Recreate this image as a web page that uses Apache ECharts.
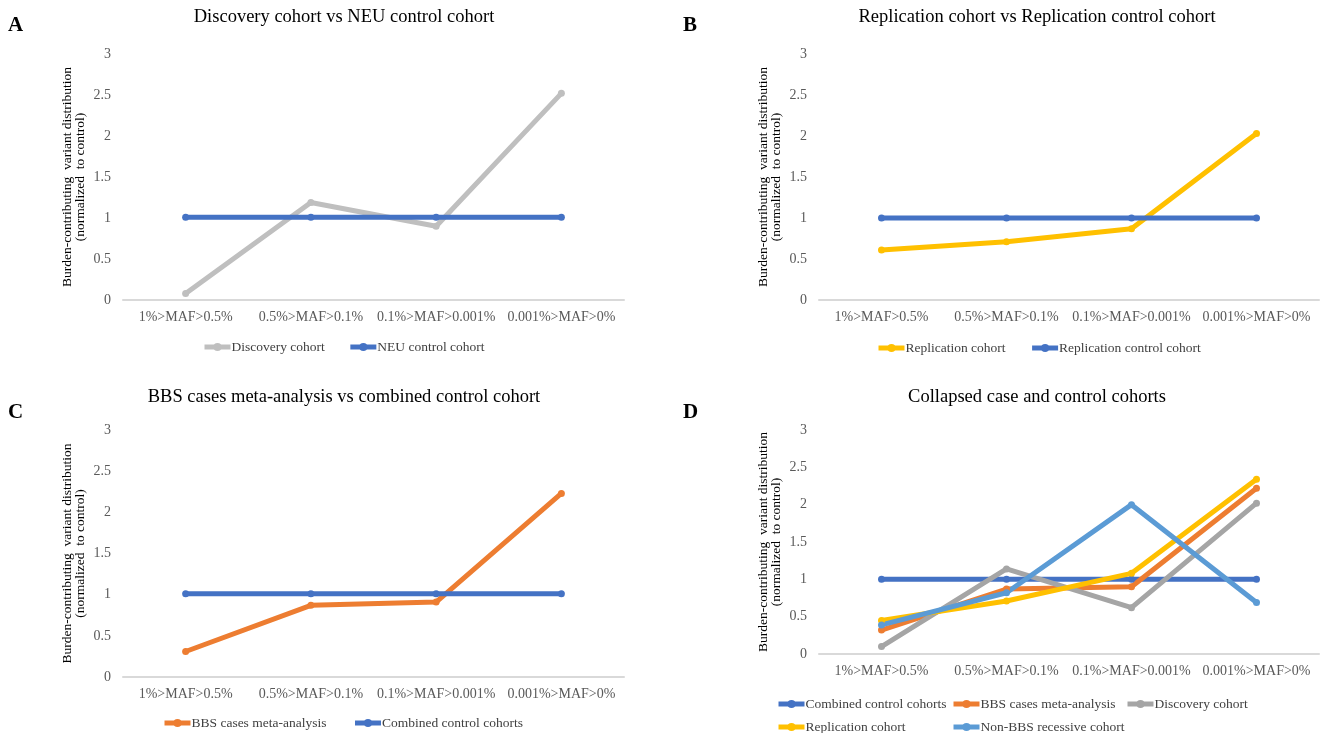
<!DOCTYPE html>
<html>
<head>
<meta charset="utf-8">
<script src="https://cdn.jsdelivr.net/npm/echarts@6/dist/echarts.min.js"></script>
<style>html,body{margin:0;padding:0;background:#fff;}#c{width:1327px;height:733px;}</style>
</head>
<body>
<div id="c"></div>
<script>
const categories = ['1%>MAF>0.5%', '0.5%>MAF>0.1%', '0.1%>MAF>0.001%', '0.001%>MAF>0%'];
// Panel A
const discoveryA = [0.08, 1.19, 0.90, 2.52];
const neuControlA = [1.01, 1.01, 1.01, 1.01];
// Panel B
const replicationB = [0.61, 0.71, 0.87, 2.03];
const replicationControlB = [1.00, 1.00, 1.00, 1.00];
// Panel C
const bbsMetaC = [0.31, 0.87, 0.91, 2.23];
const combinedControlC = [1.01, 1.01, 1.01, 1.01];
// Panel D
const combinedControlD = [1.00, 1.00, 1.00, 1.00];
const bbsMetaD = [0.32, 0.87, 0.90, 2.22];
const discoveryD = [0.10, 1.14, 0.62, 2.02];
const replicationD = [0.45, 0.71, 1.08, 2.34];
const nonBbsD = [0.39, 0.82, 2.00, 0.69];

const titles = ['Discovery cohort vs NEU control cohort', 'Replication cohort vs Replication control cohort',
  'BBS cases meta-analysis vs combined control cohort', 'Collapsed case and control cohorts'];
const panelLetters = ['A', 'B', 'C', 'D'];
const yName = 'Burden-contributing  variant distribution\n(normalized  to control)';

const C = { blue: '#4472C4', lgrey: '#BFBFBF', grey: '#A5A5A5', orange: '#ED7D31', yellow: '#FFC000', lblue: '#5B9BD5' };
const FF = '"Liberation Serif", "Times New Roman", serif';

const grids = [
  { left: 123, top: 54, width: 501, height: 246 },
  { left: 819, top: 54, width: 500, height: 246 },
  { left: 123, top: 430, width: 501, height: 247 },
  { left: 819, top: 430, width: 500, height: 224 }
];

const xAxes = grids.map((g, i) => ({
  type: 'category', gridIndex: i, data: categories, boundaryGap: true,
  axisLine: { lineStyle: { color: '#D9D9D9', width: 2 } },
  axisTick: { show: false },
  axisLabel: { color: '#595959', fontFamily: FF, fontSize: 14, margin: 10, interval: 0 }
}));
const yAxes = grids.map((g, i) => ({
  type: 'value', gridIndex: i, min: 0, max: 3, interval: 0.5,
  splitLine: { show: false }, axisLine: { show: false }, axisTick: { show: false },
  axisLabel: { color: '#595959', fontFamily: FF, fontSize: 14, margin: 12 },
  name: yName, nameLocation: 'middle', nameGap: 36, nameRotate: 90,
  nameTextStyle: { color: '#000', fontFamily: FF, fontSize: 13.5, lineHeight: 13 }
}));

function line(name, data, color, idx) {
  return {
    type: 'line', name: name, data: data, xAxisIndex: idx, yAxisIndex: idx,
    symbol: 'circle', symbolSize: 7, lineStyle: { color: color, width: 5 },
    itemStyle: { color: color }, z: 2, animation: false
  };
}

const series = [
  line('Discovery cohort', discoveryA, C.lgrey, 0),
  line('NEU control cohort', neuControlA, C.blue, 0),
  line('Replication cohort', replicationB, C.yellow, 1),
  line('Replication control cohort', replicationControlB, C.blue, 1),
  line('BBS cases meta-analysis', bbsMetaC, C.orange, 2),
  line('Combined control cohorts', combinedControlC, C.blue, 2),
  line('Combined control cohorts', combinedControlD, C.blue, 3),
  line('BBS cases meta-analysis', bbsMetaD, C.orange, 3),
  line('Discovery cohort', discoveryD, C.grey, 3),
  line('Replication cohort', replicationD, C.yellow, 3),
  line('Non-BBS recessive cohort', nonBbsD, C.lblue, 3)
];

function item(name, color) {
  return { name: name, itemStyle: { color: color }, lineStyle: { color: color, width: 5 } };
}
function legend(left, top, items, gap) {
  return {
    left: left, top: top, padding: 0, itemWidth: 26, itemHeight: 10, itemGap: gap || 23, selectedMode: false,
    textStyle: { fontFamily: FF, fontSize: 13.5, color: '#404040', padding: [0, 0, 0, -4] },
    data: items
  };
}
const legends = [
  legend(202, 340, [item('Discovery cohort', C.lgrey), item('NEU control cohort', C.blue)]),
  legend(876, 341, [item('Replication cohort', C.yellow), item('Replication control cohort', C.blue)], 24),
  legend(162, 716, [item('BBS cases meta-analysis', C.orange), item('Combined control cohorts', C.blue)], 26),
  legend(776, 697, [item('Combined control cohorts', C.blue)]),
  legend(951, 697, [item('BBS cases meta-analysis', C.orange)]),
  legend(1125, 697, [item('Discovery cohort', C.grey)]),
  legend(776, 720, [item('Replication cohort', C.yellow)]),
  legend(951, 720, [item('Non-BBS recessive cohort', C.lblue)])
];

const titleCenters = [[344, 8], [1037, 8], [344, 388], [1037, 388]];
const letterPos = [[8, 15], [683, 15], [8, 402], [683, 402]];
const titleComps = [];
titles.forEach((t, i) => {
  titleComps.push({ text: t, left: titleCenters[i][0], top: titleCenters[i][1], textAlign: 'center', padding: 0,
    textStyle: { fontFamily: FF, fontSize: 18.5, fontWeight: 'normal', color: '#000' } });
  titleComps.push({ text: panelLetters[i], left: letterPos[i][0], top: letterPos[i][1], padding: 0,
    textStyle: { fontFamily: FF, fontSize: 21, fontWeight: 'bold', color: '#000' } });
});

const chart = echarts.init(document.getElementById('c'), null, { renderer: 'canvas' });
chart.setOption({
  backgroundColor: '#fff',
  animation: false,
  title: titleComps,
  grid: grids,
  xAxis: xAxes,
  yAxis: yAxes,
  legend: legends,
  series: series
});
</script>
</body>
</html>
